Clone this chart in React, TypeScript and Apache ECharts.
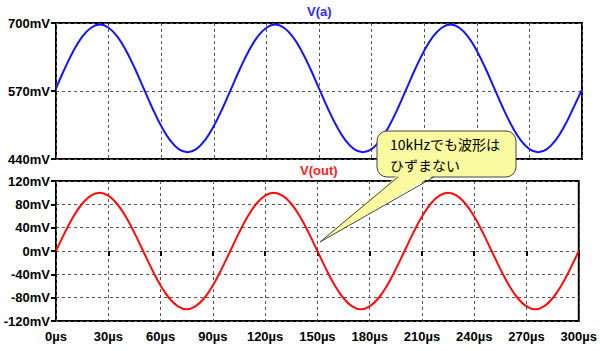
import React, { useEffect, useRef } from "react";
import * as echarts from "echarts";

const timeUs = [
  0, 5, 10, 15, 20, 25, 30, 35, 40, 45, 50, 55, 60, 65, 70, 75, 80, 85, 90, 95,
  100, 105, 110, 115, 120, 125, 130, 135, 140, 145, 150, 155, 160, 165, 170, 175, 180, 185, 190, 195,
  200, 205, 210, 215, 220, 225, 230, 235, 240, 245, 250, 255, 260, 265, 270, 275, 280, 285, 290, 295,
  300,
];

const vaMv = [
  575, 613, 647, 674, 691, 697, 691, 674, 647, 613, 575, 537, 503, 476, 459, 453, 459, 476, 503, 537,
  575, 613, 647, 674, 691, 697, 691, 674, 647, 613, 575, 537, 503, 476, 459, 453, 459, 476, 503, 537,
  575, 613, 647, 674, 691, 697, 691, 674, 647, 613, 575, 537, 503, 476, 459, 453, 459, 476, 503, 537,
  573,
];

const voutMv = [
  0, 31, 59, 81, 95, 100, 95, 81, 59, 31, 0, -31, -59, -81, -95, -100, -95, -81, -59, -31,
  0, 31, 59, 81, 95, 100, 95, 81, 59, 31, 0, -31, -59, -81, -95, -100, -95, -81, -59, -31,
  0, 31, 59, 81, 95, 100, 95, 81, 59, 31, 0, -31, -59, -81, -95, -100, -95, -81, -59, -31,
  0,
];

const vaAxis = { min: 440, max: 700, step: 130 };
const voutAxis = { min: -120, max: 120, step: 40 };
const timeAxis = { min: 0, max: 300, step: 30 };

const topTitle = "V(a)";
const bottomTitle = "V(out)";
const noteLines = ["10kHzでも波形は", "ひずまない"];

export default function App() {
  const ref = useRef<HTMLDivElement>(null);

  useEffect(() => {
    if (!ref.current) return;
    const chart = echarts.init(ref.current, null, { renderer: "svg" });

    const labelFont = {
      fontFamily: "'Liberation Sans', Arial, sans-serif",
      fontWeight: "bold" as const,
      fontSize: 13,
      color: "#000",
    };
    const dashed = { color: "#555", width: 1, type: [3, 3] as any };

    const vaData = timeUs.map((t, i) => [t, vaMv[i] - vaAxis.min]);
    const voutData = timeUs.map((t, i) => [t, voutMv[i]]);

    chart.setOption({
      animation: false,
      backgroundColor: "#fff",
      grid: [
        { left: 56, right: 18, top: 23, height: 136, show: true, borderColor: "#000", borderWidth: 2, backgroundColor: "transparent" },
        { left: 56, right: 18, top: 181, height: 140, show: true, borderColor: "#000", borderWidth: 2, backgroundColor: "transparent" },
      ],
      xAxis: [
        {
          type: "value", gridIndex: 0, min: timeAxis.min, max: timeAxis.max, interval: timeAxis.step,
          axisLine: { show: false }, axisTick: { show: false }, axisLabel: { show: false },
          splitLine: { show: true, lineStyle: dashed },
        },
        {
          type: "value", gridIndex: 1, min: timeAxis.min, max: timeAxis.max, interval: timeAxis.step,
          axisLine: { show: false },
          axisTick: { show: true, length: 5, lineStyle: { color: "#000", width: 2 } },
          axisLabel: { ...labelFont, margin: 9, formatter: (v: number) => `${v}µs` },
          splitLine: { show: true, lineStyle: dashed },
        },
      ],
      yAxis: [
        {
          type: "value", gridIndex: 0, min: 0, max: vaAxis.max - vaAxis.min, interval: vaAxis.step,
          axisLine: { show: false },
          axisTick: { show: true, length: 5, lineStyle: { color: "#000", width: 2 } },
          axisLabel: { ...labelFont, margin: 6, formatter: (v: number) => `${v + vaAxis.min}mV` },
          splitLine: { show: true, lineStyle: dashed },
        },
        {
          type: "value", gridIndex: 1, min: voutAxis.min, max: voutAxis.max, interval: voutAxis.step,
          axisLine: { show: false },
          axisTick: { show: true, length: 5, lineStyle: { color: "#000", width: 2 } },
          axisLabel: { ...labelFont, margin: 6, formatter: (v: number) => `${v}mV` },
          splitLine: { show: true, lineStyle: dashed },
        },
      ],
      series: [
        {
          type: "line", xAxisIndex: 0, yAxisIndex: 0, data: vaData, smooth: 0.4, showSymbol: false,
          lineStyle: { color: "#1414ff", width: 2 }, z: 3,
        },
        {
          type: "line", xAxisIndex: 1, yAxisIndex: 1, data: voutData, smooth: 0.4, showSymbol: false,
          lineStyle: { color: "#ff0a0a", width: 2 }, z: 3,
        },
      ],
      graphic: [
        {
          type: "text", left: 307, top: 5, z: 10,
          style: { text: topTitle, fill: "#2a2aff", font: "bold 13px 'Liberation Sans', Arial, sans-serif" },
        },
        {
          type: "text", left: 300, top: 164, z: 10,
          style: { text: bottomTitle, fill: "#ff1a1a", font: "bold 13px 'Liberation Sans', Arial, sans-serif" },
        },
        {
          type: "rect", z: 20,
          shape: { x: 377, y: 131, width: 139, height: 46, r: 10 },
          style: { fill: "#fafaa0", stroke: "#444", lineWidth: 1 },
        },
        {
          type: "polygon", z: 21,
          shape: { points: [[398, 175], [434, 175], [320, 242]] },
          style: { fill: "#fafaa0", stroke: "none" },
        },
        {
          type: "polyline", z: 22,
          shape: { points: [[398, 177], [320, 242], [434, 177]] },
          style: { fill: "none", stroke: "#444", lineWidth: 1 },
        },
        {
          type: "text", left: 390, top: 137, z: 23,
          style: { text: noteLines[0], fill: "#000", font: "14px 'Noto Sans CJK JP', sans-serif" },
        },
        {
          type: "text", left: 390, top: 158, z: 23,
          style: { text: noteLines[1], fill: "#000", font: "14px 'Noto Sans CJK JP', sans-serif" },
        },
      ],
    });

    return () => chart.dispose();
  }, []);

  return (
    <div
      ref={ref}
      style={{ position: "fixed", left: 0, top: 0, width: 600, height: 351, background: "#fff" }}
    />
  );
}
